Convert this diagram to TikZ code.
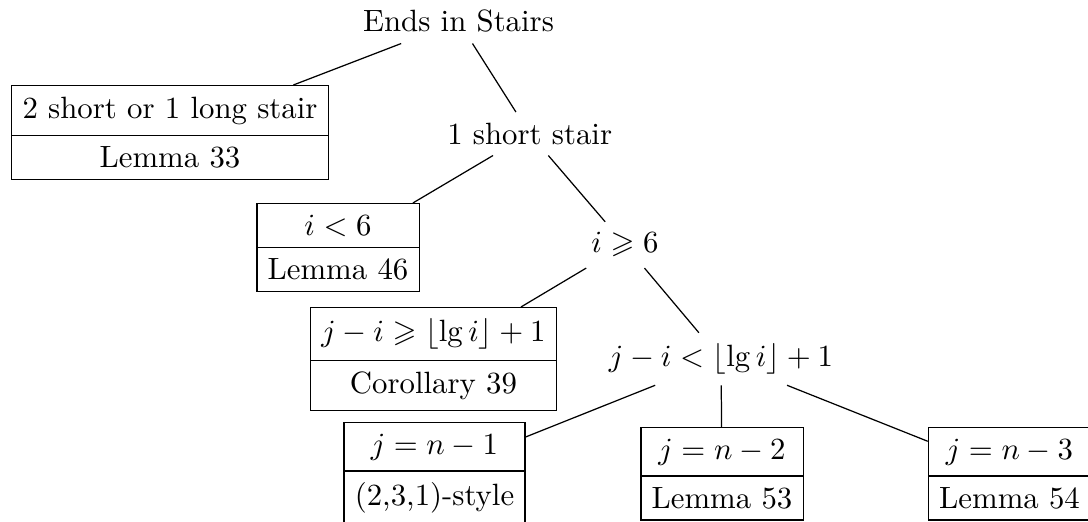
\documentclass[tikz,border=0pt]{standalone}
\usepackage{amssymb}
\usetikzlibrary{shapes.multipart}
\begin{document}
\begin{tikzpicture}[x=0.3247pt,y=-0.3247pt,
  leaf/.style={draw, rectangle split, rectangle split parts=2, anchor=north, line width=0.4pt, inner ysep=3.4pt, inner xsep=3.5pt},
  lbl/.style={anchor=base},
  edge/.style={line width=0.4pt}]
\useasboundingbox (0,0) rectangle (1088,522);
\node[lbl] (root) at (458.5,32) {Ends in Stairs};
\node[leaf] (a) at (170,85) {2 short or 1 long stair \nodepart{two} Lemma 33};
\node[lbl] (b) at (529.7,144.3) {1 short stair};
\node[leaf] (c) at (338,203) {$i<6$ \nodepart{two} Lemma 46};
\node[lbl] (d) at (625,253) {$i \geqslant 6$};
\node[leaf] (e) at (433.5,307) {$j-i \geqslant \lfloor \lg i\rfloor + 1$ \nodepart{two} Corollary 39};
\node[lbl] (f) at (721,366.7) {$j-i < \lfloor \lg i\rfloor + 1$};
\node[leaf] (g) at (434.5,422) {$j=n-1$ \nodepart{two} (2,3,1)-style};
\node[leaf] (h) at (722,427) {$j=n-2$ \nodepart{two} Lemma 53};
\node[leaf] (k) at (1009.5,427) {$j=n-3$ \nodepart{two} Lemma 54};
\draw[edge] (root) -- (a);
\draw[edge] (root) -- (b);
\draw[edge] (b) -- (c);
\draw[edge] (b) -- (d);
\draw[edge] (d) -- (e);
\draw[edge] (d) -- (f);
\draw[edge] (f) -- (g);
\draw[edge] (f) -- (h);
\draw[edge] (f) -- (k);
\end{tikzpicture}
\end{document}
